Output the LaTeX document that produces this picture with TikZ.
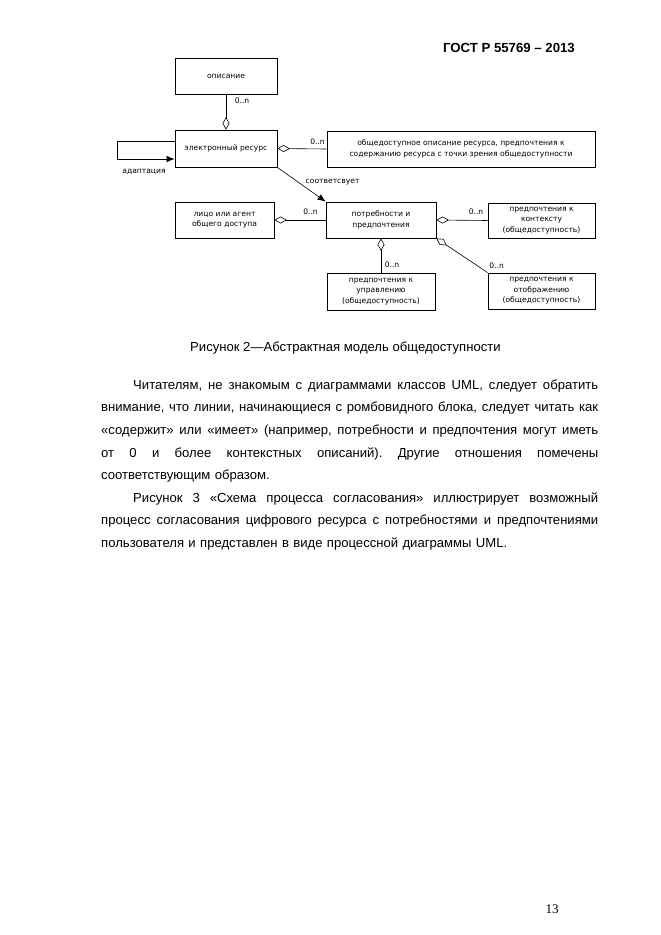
\documentclass[tikz,border=0pt]{standalone}
\usepackage{fontspec}
\setmainfont{Liberation Sans}
\newfontfamily\diagfont{DejaVu Sans}
\newfontfamily\pagefont{Liberation Serif}
\usetikzlibrary{arrows.meta}
% one justified line of the body text
\newcommand\jline[1]{\makebox[497pt][s]{\spaceskip=\fontdimen2\font plus 1fil\relax #1}}
\begin{document}
\begin{tikzpicture}[x=1pt,y=-1pt,
    box/.style={draw,line width=0.8pt,inner sep=1pt,align=center,font=\diagfont\fontsize{7.6}{10.5}\selectfont},
    lbl/.style={font=\diagfont\fontsize{7.6}{9}\selectfont,inner sep=1.5pt},
    agg/.style={{Diamond[open,length=12.5pt,width=7pt]}-,line width=0.6pt},
    rel/.style={-{Latex[length=8pt,width=6.5pt]},line width=0.6pt},
    body/.style={font=\fontsize{13.1}{22.6}\selectfont\frenchspacing,inner sep=0pt}]
  \fill[white] (0,0) rectangle (661,935);
  \useasboundingbox (0,0) rectangle (661,935);
  % header and page number
  \node[body,anchor=base east,font=\bfseries\fontsize{13.2}{15}\selectfont] (gost) at (575,52) {ГОСТ Р 55769 – 2013};
  \node[body,anchor=base east,font=\pagefont\fontsize{13.2}{15}\selectfont] (pagenum) at (559,913) {13};
  % classes
  \node[box,minimum width=102pt,minimum height=36pt] (opis) at (226,76) {описание};
  \node[box,minimum width=102pt,minimum height=37pt] (eres) at (226,148.5) {электронный ресурс};
  \node[box,minimum width=268pt,minimum height=36pt] (odesc) at (461,149) {общедоступное описание ресурса, предпочтения к\\содержанию ресурса с точки зрения общедоступности};
  \node[box,minimum width=99pt,minimum height=36pt] (lico) at (224.5,220) {лицо или агент\\общего доступа};
  \node[box,minimum width=110pt,minimum height=36pt] (potr) at (381,220) {потребности и\\предпочтения};
  \node[box,minimum width=107pt,minimum height=35pt] (kont) at (541.5,220.5) {предпочтения к\\контексту\\(общедоступность)};
  \node[box,minimum width=108pt,minimum height=37pt] (upr) at (381,291.5) {предпочтения к\\управлению\\(общедоступность)};
  \node[box,minimum width=107pt,minimum height=36pt] (otob) at (541.5,291) {предпочтения к\\отображению\\(общедоступность)};
  % relations
  \draw[agg] (eres.north) -- (opis.south) node[lbl,pos=1,below right,xshift=7pt,yshift=-2pt] {0..n};
  \draw[rel] ([yshift=7pt]eres.west) -- ++(-57,0) |- ([yshift=-10.5pt]eres.west);
  \node[lbl] (adapt) at (144,172) {адаптация};
  \draw[agg] (eres.east) -- (odesc.west) node[lbl,pos=1,above left,yshift=3pt] {0..n};
  \draw[rel] (eres.south east) -- (potr.north west) node[lbl,pos=0.55,above right,yshift=-1pt] {соответсвует};
  \draw[agg] (lico.east) -- (potr.west) node[lbl,pos=1,above left,xshift=-6pt,yshift=4pt] {0..n};
  \draw[agg] (potr.east) -- (kont.west) node[lbl,pos=1,above left,xshift=-2.5pt,yshift=4pt] {0..n};
  \draw[agg] (potr.south east) -- (otob.north west) node[lbl,pos=1,above right,yshift=2pt] {0..n};
  \draw[agg] (potr.south) -- (upr.north) node[lbl,pos=1,above right,xshift=2pt,yshift=3pt] {0..n};
  % caption and text
  \node[body,anchor=base west] (caption) at (190,351) {Рисунок 2—Абстрактная модель общедоступности};
  \node[body,anchor=north west,text width=497pt,align=left] (text) at (101,379.5) {%
    \jline{\hspace{32pt}Читателям, не знакомым с диаграммами классов UML, следует обратить}\\
    \jline{внимание, что линии, начинающиеся с ромбовидного блока, следует читать как}\\
    \jline{«содержит» или «имеет» (например, потребности и предпочтения могут иметь}\\
    \jline{от 0 и более контекстных описаний). Другие отношения помечены}\\
    соответствующим образом.\\
    \jline{\hspace{32pt}Рисунок 3 «Схема процесса согласования» иллюстрирует возможный}\\
    \jline{процесс согласования цифрового ресурса с потребностями и предпочтениями}\\
    пользователя и представлен в виде процессной диаграммы UML.};
\end{tikzpicture}
\end{document}
